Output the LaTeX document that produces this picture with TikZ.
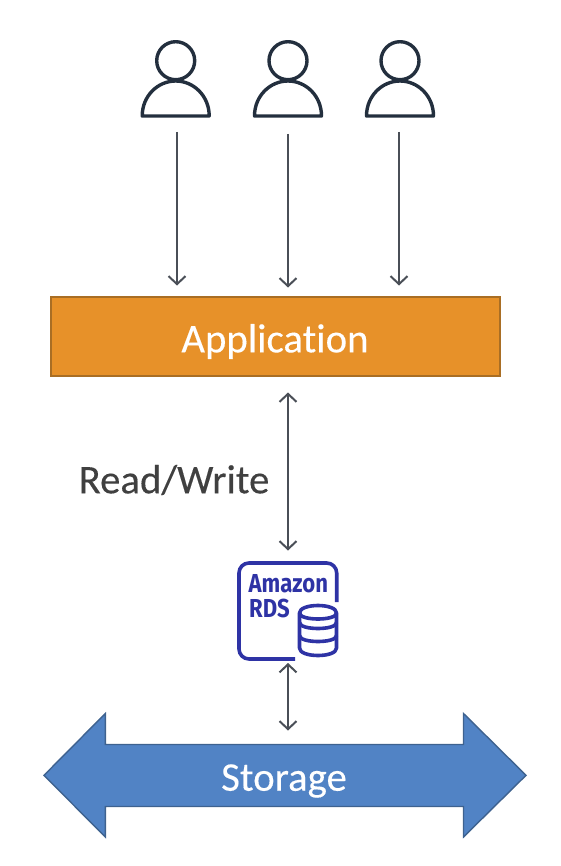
\documentclass[tikz,border=0pt]{standalone}
\usepackage{fontspec}
\setmainfont{Carlito}[Ligatures={NoCommon},FakeBold=0.25]
\newfontfamily\rdsfont{Fira Sans}
\usetikzlibrary{arrows.meta}
\definecolor{appfill}{HTML}{E79129}
\definecolor{appline}{HTML}{A96E24}
\definecolor{storefill}{HTML}{5183C5}
\definecolor{storeline}{HTML}{3E628F}
\definecolor{userline}{HTML}{232F3E}
\definecolor{arrowline}{HTML}{4A4F57}
\definecolor{rdsblue}{HTML}{2E33A5}
\definecolor{labeltext}{HTML}{404040}
\tikzset{
  x=1pt,y=-1pt,
  conn/.style={draw=arrowline,line width=1.5pt,-{Straight Barb[length=8pt,width=17pt,line width=2pt]}},
  conn2/.style={draw=arrowline,line width=1.5pt,{Straight Barb[length=8pt,width=17pt,line width=2pt]}-{Straight Barb[length=8pt,width=17pt,line width=2pt]}},
  userstroke/.style={draw=userline,line width=3.4pt,line join=round},
  rdsstroke/.style={draw=rdsblue,line width=3.6pt,line join=round},
  bigtext/.style={inner sep=0pt,font=\fontsize{40.8}{44}\selectfont},
  rdstext/.style={text=rdsblue,font=\rdsfont\bfseries\fontsize{26}{28}\selectfont,inner sep=0pt,anchor=base west,xscale=.85},
  pics/person/.style={code={
    \draw[userstroke] (0,-55.3) circle[radius=19];
    \draw[userstroke] (-33.5,0) .. controls (-33.5,-20) and (-18,-35) .. (0,-35)
       .. controls (18,-35) and (33.5,-20) .. (33.5,0) -- cycle;
  }}
}
\begin{document}
\begin{tikzpicture}
\useasboundingbox (0,0) rectangle (560,866);
\pic at (175.7,116) {person};
\pic at (288,116) {person};
\pic at (400,116) {person};

\node[draw=appline,fill=appfill,line width=1.6pt,minimum width=449pt,minimum height=79pt,inner sep=0pt] (appbox) at (275.3,336.3) {};
\node[bigtext,text=white] (app) at (275,341.5) {Application};

\coordinate (u1) at (177,132);
\coordinate (u2) at (288,134);
\coordinate (u3) at (399,132);
\coordinate (a1) at (177,285.5);
\coordinate (a2) at (288,287.5);
\coordinate (a3) at (399,285.5);
\draw[conn] (u1) -- (a1);
\draw[conn] (u2) -- (a2);
\draw[conn] (u3) -- (a3);

% RDS icon
\draw[rdsstroke] (336.7,602) -- (336.7,573) arc[start angle=0,end angle=-90,radius=10] -- (249,563) arc[start angle=-90,end angle=-180,radius=10] -- (239,649) arc[start angle=180,end angle=90,radius=10] -- (295,659);
\node[rdstext] (amazon) at (248.5,592) {Amazon};
\node[rdstext] (rds) at (249,617) {RDS};
\draw[rdsstroke] (299.5,613) .. controls (299.5,603) and (336.5,603) .. (336.5,613)
  -- (336.5,648) .. controls (336.5,658) and (299.5,658) .. (299.5,648) -- cycle;
\draw[rdsstroke] (299.5,613) .. controls (299.5,621) and (336.5,621) .. (336.5,613);
\draw[rdsstroke] (299.5,622.5) .. controls (299.5,630.5) and (336.5,630.5) .. (336.5,622.5);
\draw[rdsstroke] (299.5,635.5) .. controls (299.5,643.5) and (336.5,643.5) .. (336.5,635.5);

\coordinate (b1) at (288,392.5);
\coordinate (b2) at (288,550.5);
\coordinate (c1) at (288,663);
\coordinate (c2) at (288,730.5);
\draw[conn2] (b1) -- (b2);
\draw[conn2] (c1) -- (c2);

\node[bigtext,text=labeltext] (rw) at (174,480) {Read/Write};

% Storage arrow
\draw[draw=storeline,fill=storefill,line width=1.4pt,line join=miter]
  (44,775.3) -- (105.3,713.5) -- (105.3,744.5) -- (463.5,744.5) -- (463.5,713.5) -- (526,775.3)
  -- (463.5,837) -- (463.5,806.5) -- (105.3,806.5) -- (105.3,837) -- cycle;
\node[bigtext,text=white] (storage) at (284,781) {Storage};
\end{tikzpicture}
\end{document}
